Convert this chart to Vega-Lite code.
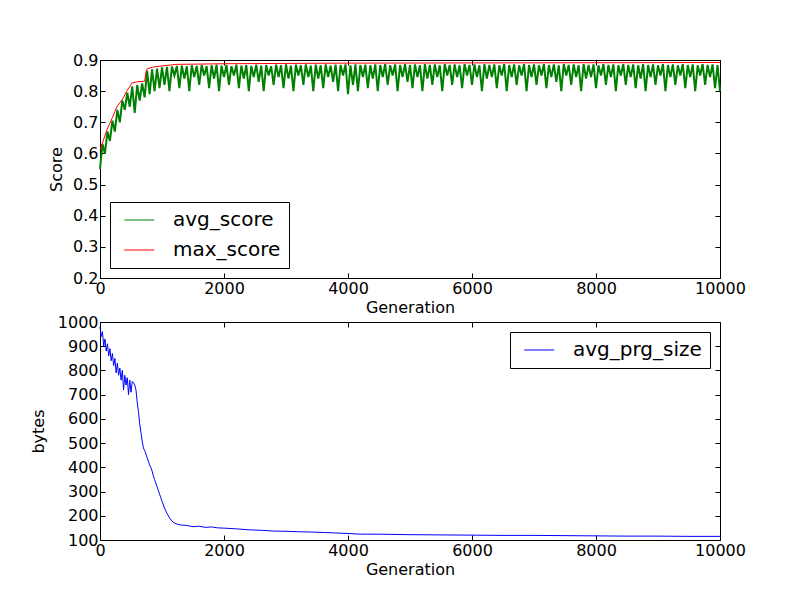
{
  "$schema": "https://vega.github.io/schema/vega-lite/v6.json",
  "autosize": {"type": "pad"},
  "padding": {"left": 29, "top": 51, "right": 5, "bottom": 5},
  "background": "white",
  "datasets": {
    "score": [
      {"s":"avg_score","g":0,"v":0.55},{"s":"avg_score","g":40,"v":0.63},{"s":"avg_score","g":80,"v":0.60},{"s":"avg_score","g":120,"v":0.67},{"s":"avg_score","g":160,"v":0.64},{"s":"avg_score","g":200,"v":0.705},{"s":"avg_score","g":240,"v":0.67},{"s":"avg_score","g":280,"v":0.74},{"s":"avg_score","g":320,"v":0.70},{"s":"avg_score","g":360,"v":0.77},
      {"s":"avg_score","g":400,"v":0.74},{"s":"avg_score","g":440,"v":0.795},{"s":"avg_score","g":480,"v":0.75},{"s":"avg_score","g":520,"v":0.815},{"s":"avg_score","g":560,"v":0.73},{"s":"avg_score","g":600,"v":0.82},{"s":"avg_score","g":640,"v":0.77},{"s":"avg_score","g":680,"v":0.825},{"s":"avg_score","g":720,"v":0.78},{"s":"avg_score","g":760,"v":0.865},
      {"s":"avg_score","g":800,"v":0.79},{"s":"avg_score","g":840,"v":0.87},{"s":"avg_score","g":880,"v":0.80},{"s":"avg_score","g":920,"v":0.872},{"s":"avg_score","g":960,"v":0.81},{"s":"avg_score","g":1000,"v":0.876},{"s":"avg_score","g":1040,"v":0.82},{"s":"avg_score","g":1080,"v":0.878},{"s":"avg_score","g":1120,"v":0.80},{"s":"avg_score","g":1160,"v":0.879},
      {"s":"avg_score","g":1200,"v":0.85},{"s":"avg_score","g":1240,"v":0.881},{"s":"avg_score","g":1280,"v":0.81},{"s":"avg_score","g":1320,"v":0.882},{"s":"avg_score","g":1360,"v":0.84},{"s":"avg_score","g":1400,"v":0.880},{"s":"avg_score","g":1440,"v":0.80},{"s":"avg_score","g":1480,"v":0.883},{"s":"avg_score","g":1520,"v":0.845},{"s":"avg_score","g":1560,"v":0.881},
      {"s":"avg_score","g":1600,"v":0.82},{"s":"avg_score","g":1640,"v":0.884},{"s":"avg_score","g":1680,"v":0.85},{"s":"avg_score","g":1720,"v":0.880},{"s":"avg_score","g":1760,"v":0.81},{"s":"avg_score","g":1800,"v":0.883},{"s":"avg_score","g":1840,"v":0.84},{"s":"avg_score","g":1880,"v":0.885},{"s":"avg_score","g":1920,"v":0.80},{"s":"avg_score","g":1960,"v":0.882},
      {"s":"avg_score","g":2000,"v":0.845},{"s":"avg_score","g":2040,"v":0.884},{"s":"avg_score","g":2080,"v":0.82},{"s":"avg_score","g":2120,"v":0.880},{"s":"avg_score","g":2160,"v":0.85},{"s":"avg_score","g":2200,"v":0.885},{"s":"avg_score","g":2240,"v":0.81},{"s":"avg_score","g":2280,"v":0.882},{"s":"avg_score","g":2320,"v":0.84},{"s":"avg_score","g":2360,"v":0.884},
      {"s":"avg_score","g":2400,"v":0.80},{"s":"avg_score","g":2440,"v":0.881},{"s":"avg_score","g":2480,"v":0.845},{"s":"avg_score","g":2520,"v":0.885},{"s":"avg_score","g":2560,"v":0.83},{"s":"avg_score","g":2600,"v":0.882},{"s":"avg_score","g":2640,"v":0.80},{"s":"avg_score","g":2680,"v":0.884},{"s":"avg_score","g":2720,"v":0.85},{"s":"avg_score","g":2760,"v":0.880},
      {"s":"avg_score","g":2800,"v":0.82},{"s":"avg_score","g":2840,"v":0.885},{"s":"avg_score","g":2880,"v":0.845},{"s":"avg_score","g":2920,"v":0.883},{"s":"avg_score","g":2960,"v":0.81},{"s":"avg_score","g":3000,"v":0.886},{"s":"avg_score","g":3040,"v":0.84},{"s":"avg_score","g":3080,"v":0.882},{"s":"avg_score","g":3120,"v":0.80},{"s":"avg_score","g":3160,"v":0.885},
      {"s":"avg_score","g":3200,"v":0.85},{"s":"avg_score","g":3240,"v":0.883},{"s":"avg_score","g":3280,"v":0.82},{"s":"avg_score","g":3320,"v":0.886},{"s":"avg_score","g":3360,"v":0.845},{"s":"avg_score","g":3400,"v":0.882},{"s":"avg_score","g":3440,"v":0.80},{"s":"avg_score","g":3480,"v":0.885},{"s":"avg_score","g":3520,"v":0.84},{"s":"avg_score","g":3560,"v":0.883},
      {"s":"avg_score","g":3600,"v":0.81},{"s":"avg_score","g":3640,"v":0.886},{"s":"avg_score","g":3680,"v":0.845},{"s":"avg_score","g":3720,"v":0.882},{"s":"avg_score","g":3760,"v":0.83},{"s":"avg_score","g":3800,"v":0.885},{"s":"avg_score","g":3840,"v":0.80},{"s":"avg_score","g":3880,"v":0.884},{"s":"avg_score","g":3920,"v":0.85},{"s":"avg_score","g":3960,"v":0.886},
      {"s":"avg_score","g":4000,"v":0.79},{"s":"avg_score","g":4040,"v":0.883},{"s":"avg_score","g":4080,"v":0.82},{"s":"avg_score","g":4120,"v":0.886},{"s":"avg_score","g":4160,"v":0.80},{"s":"avg_score","g":4200,"v":0.884},{"s":"avg_score","g":4240,"v":0.845},{"s":"avg_score","g":4280,"v":0.885},{"s":"avg_score","g":4320,"v":0.81},{"s":"avg_score","g":4360,"v":0.883},
      {"s":"avg_score","g":4400,"v":0.84},{"s":"avg_score","g":4440,"v":0.886},{"s":"avg_score","g":4480,"v":0.80},{"s":"avg_score","g":4520,"v":0.884},{"s":"avg_score","g":4560,"v":0.845},{"s":"avg_score","g":4600,"v":0.887},{"s":"avg_score","g":4640,"v":0.82},{"s":"avg_score","g":4680,"v":0.883},{"s":"avg_score","g":4720,"v":0.85},{"s":"avg_score","g":4760,"v":0.886},
      {"s":"avg_score","g":4800,"v":0.80},{"s":"avg_score","g":4840,"v":0.884},{"s":"avg_score","g":4880,"v":0.845},{"s":"avg_score","g":4920,"v":0.887},{"s":"avg_score","g":4960,"v":0.83},{"s":"avg_score","g":5000,"v":0.884},{"s":"avg_score","g":5040,"v":0.81},{"s":"avg_score","g":5080,"v":0.886},{"s":"avg_score","g":5120,"v":0.845},{"s":"avg_score","g":5160,"v":0.883},
      {"s":"avg_score","g":5200,"v":0.80},{"s":"avg_score","g":5240,"v":0.887},{"s":"avg_score","g":5280,"v":0.84},{"s":"avg_score","g":5320,"v":0.884},{"s":"avg_score","g":5360,"v":0.82},{"s":"avg_score","g":5400,"v":0.886},{"s":"avg_score","g":5440,"v":0.845},{"s":"avg_score","g":5480,"v":0.883},{"s":"avg_score","g":5520,"v":0.80},{"s":"avg_score","g":5560,"v":0.887},
      {"s":"avg_score","g":5600,"v":0.85},{"s":"avg_score","g":5640,"v":0.884},{"s":"avg_score","g":5680,"v":0.82},{"s":"avg_score","g":5720,"v":0.886},{"s":"avg_score","g":5760,"v":0.845},{"s":"avg_score","g":5800,"v":0.883},{"s":"avg_score","g":5840,"v":0.81},{"s":"avg_score","g":5880,"v":0.887},{"s":"avg_score","g":5920,"v":0.85},{"s":"avg_score","g":5960,"v":0.884},
      {"s":"avg_score","g":6000,"v":0.82},{"s":"avg_score","g":6040,"v":0.886},{"s":"avg_score","g":6080,"v":0.845},{"s":"avg_score","g":6120,"v":0.883},{"s":"avg_score","g":6160,"v":0.80},{"s":"avg_score","g":6200,"v":0.887},{"s":"avg_score","g":6240,"v":0.84},{"s":"avg_score","g":6280,"v":0.884},{"s":"avg_score","g":6320,"v":0.845},{"s":"avg_score","g":6360,"v":0.886},
      {"s":"avg_score","g":6400,"v":0.81},{"s":"avg_score","g":6440,"v":0.883},{"s":"avg_score","g":6480,"v":0.85},{"s":"avg_score","g":6520,"v":0.887},{"s":"avg_score","g":6560,"v":0.80},{"s":"avg_score","g":6600,"v":0.884},{"s":"avg_score","g":6640,"v":0.845},{"s":"avg_score","g":6680,"v":0.886},{"s":"avg_score","g":6720,"v":0.82},{"s":"avg_score","g":6760,"v":0.883},
      {"s":"avg_score","g":6800,"v":0.85},{"s":"avg_score","g":6840,"v":0.887},{"s":"avg_score","g":6880,"v":0.80},{"s":"avg_score","g":6920,"v":0.884},{"s":"avg_score","g":6960,"v":0.845},{"s":"avg_score","g":7000,"v":0.886},{"s":"avg_score","g":7040,"v":0.82},{"s":"avg_score","g":7080,"v":0.883},{"s":"avg_score","g":7120,"v":0.85},{"s":"avg_score","g":7160,"v":0.887},
      {"s":"avg_score","g":7200,"v":0.81},{"s":"avg_score","g":7240,"v":0.884},{"s":"avg_score","g":7280,"v":0.845},{"s":"avg_score","g":7320,"v":0.886},{"s":"avg_score","g":7360,"v":0.83},{"s":"avg_score","g":7400,"v":0.883},{"s":"avg_score","g":7440,"v":0.80},{"s":"avg_score","g":7480,"v":0.887},{"s":"avg_score","g":7520,"v":0.85},{"s":"avg_score","g":7560,"v":0.884},
      {"s":"avg_score","g":7600,"v":0.82},{"s":"avg_score","g":7640,"v":0.886},{"s":"avg_score","g":7680,"v":0.845},{"s":"avg_score","g":7720,"v":0.883},{"s":"avg_score","g":7760,"v":0.80},{"s":"avg_score","g":7800,"v":0.887},{"s":"avg_score","g":7840,"v":0.84},{"s":"avg_score","g":7880,"v":0.884},{"s":"avg_score","g":7920,"v":0.845},{"s":"avg_score","g":7960,"v":0.886},
      {"s":"avg_score","g":8000,"v":0.81},{"s":"avg_score","g":8040,"v":0.883},{"s":"avg_score","g":8080,"v":0.85},{"s":"avg_score","g":8120,"v":0.887},{"s":"avg_score","g":8160,"v":0.82},{"s":"avg_score","g":8200,"v":0.884},{"s":"avg_score","g":8240,"v":0.845},{"s":"avg_score","g":8280,"v":0.886},{"s":"avg_score","g":8320,"v":0.80},{"s":"avg_score","g":8360,"v":0.883},
      {"s":"avg_score","g":8400,"v":0.85},{"s":"avg_score","g":8440,"v":0.887},{"s":"avg_score","g":8480,"v":0.82},{"s":"avg_score","g":8520,"v":0.884},{"s":"avg_score","g":8560,"v":0.845},{"s":"avg_score","g":8600,"v":0.886},{"s":"avg_score","g":8640,"v":0.81},{"s":"avg_score","g":8680,"v":0.883},{"s":"avg_score","g":8720,"v":0.84},{"s":"avg_score","g":8760,"v":0.887},
      {"s":"avg_score","g":8800,"v":0.80},{"s":"avg_score","g":8840,"v":0.884},{"s":"avg_score","g":8880,"v":0.845},{"s":"avg_score","g":8920,"v":0.886},{"s":"avg_score","g":8960,"v":0.82},{"s":"avg_score","g":9000,"v":0.883},{"s":"avg_score","g":9040,"v":0.85},{"s":"avg_score","g":9080,"v":0.887},{"s":"avg_score","g":9120,"v":0.80},{"s":"avg_score","g":9160,"v":0.884},
      {"s":"avg_score","g":9200,"v":0.845},{"s":"avg_score","g":9240,"v":0.886},{"s":"avg_score","g":9280,"v":0.82},{"s":"avg_score","g":9320,"v":0.883},{"s":"avg_score","g":9360,"v":0.85},{"s":"avg_score","g":9400,"v":0.887},{"s":"avg_score","g":9440,"v":0.81},{"s":"avg_score","g":9480,"v":0.884},{"s":"avg_score","g":9520,"v":0.845},{"s":"avg_score","g":9560,"v":0.886},
      {"s":"avg_score","g":9600,"v":0.80},{"s":"avg_score","g":9640,"v":0.883},{"s":"avg_score","g":9680,"v":0.85},{"s":"avg_score","g":9720,"v":0.887},{"s":"avg_score","g":9760,"v":0.82},{"s":"avg_score","g":9800,"v":0.884},{"s":"avg_score","g":9840,"v":0.845},{"s":"avg_score","g":9880,"v":0.886},{"s":"avg_score","g":9920,"v":0.81},{"s":"avg_score","g":9960,"v":0.884},
      {"s":"avg_score","g":10000,"v":0.80},
      {"s":"max_score","g":0,"v":0.61},{"s":"max_score","g":50,"v":0.64},{"s":"max_score","g":110,"v":0.675},{"s":"max_score","g":200,"v":0.715},{"s":"max_score","g":272,"v":0.75},{"s":"max_score","g":375,"v":0.778},{"s":"max_score","g":430,"v":0.80},{"s":"max_score","g":480,"v":0.815},{"s":"max_score","g":515,"v":0.826},{"s":"max_score","g":600,"v":0.83},
      {"s":"max_score","g":720,"v":0.832},{"s":"max_score","g":740,"v":0.86},{"s":"max_score","g":760,"v":0.872},{"s":"max_score","g":850,"v":0.877},{"s":"max_score","g":1000,"v":0.881},{"s":"max_score","g":1240,"v":0.886},{"s":"max_score","g":2000,"v":0.888},{"s":"max_score","g":4000,"v":0.89},{"s":"max_score","g":7000,"v":0.891},{"s":"max_score","g":10000,"v":0.892}
    ],
    "size": [
      {"s":"avg_prg_size","g":0,"v":980},{"s":"avg_prg_size","g":20,"v":940},{"s":"avg_prg_size","g":40,"v":960},{"s":"avg_prg_size","g":60,"v":900},{"s":"avg_prg_size","g":80,"v":930},{"s":"avg_prg_size","g":100,"v":880},{"s":"avg_prg_size","g":120,"v":910},{"s":"avg_prg_size","g":140,"v":860},{"s":"avg_prg_size","g":160,"v":890},{"s":"avg_prg_size","g":180,"v":840},
      {"s":"avg_prg_size","g":200,"v":870},{"s":"avg_prg_size","g":220,"v":820},{"s":"avg_prg_size","g":240,"v":850},{"s":"avg_prg_size","g":260,"v":790},{"s":"avg_prg_size","g":280,"v":830},{"s":"avg_prg_size","g":300,"v":780},{"s":"avg_prg_size","g":320,"v":810},{"s":"avg_prg_size","g":340,"v":760},{"s":"avg_prg_size","g":360,"v":800},{"s":"avg_prg_size","g":380,"v":720},
      {"s":"avg_prg_size","g":400,"v":780},{"s":"avg_prg_size","g":420,"v":740},{"s":"avg_prg_size","g":440,"v":770},{"s":"avg_prg_size","g":460,"v":700},{"s":"avg_prg_size","g":480,"v":760},{"s":"avg_prg_size","g":500,"v":710},{"s":"avg_prg_size","g":520,"v":755},{"s":"avg_prg_size","g":540,"v":750},{"s":"avg_prg_size","g":560,"v":740},{"s":"avg_prg_size","g":580,"v":720},
      {"s":"avg_prg_size","g":600,"v":670},{"s":"avg_prg_size","g":620,"v":630},{"s":"avg_prg_size","g":640,"v":580},{"s":"avg_prg_size","g":660,"v":545},{"s":"avg_prg_size","g":680,"v":510},{"s":"avg_prg_size","g":700,"v":480},{"s":"avg_prg_size","g":720,"v":470},{"s":"avg_prg_size","g":740,"v":455},{"s":"avg_prg_size","g":760,"v":440},{"s":"avg_prg_size","g":780,"v":425},
      {"s":"avg_prg_size","g":800,"v":410},{"s":"avg_prg_size","g":820,"v":400},{"s":"avg_prg_size","g":840,"v":385},{"s":"avg_prg_size","g":860,"v":365},{"s":"avg_prg_size","g":880,"v":350},{"s":"avg_prg_size","g":900,"v":335},{"s":"avg_prg_size","g":920,"v":320},{"s":"avg_prg_size","g":940,"v":305},{"s":"avg_prg_size","g":960,"v":290},{"s":"avg_prg_size","g":980,"v":275},
      {"s":"avg_prg_size","g":1000,"v":260},{"s":"avg_prg_size","g":1040,"v":232},{"s":"avg_prg_size","g":1080,"v":210},{"s":"avg_prg_size","g":1120,"v":192},{"s":"avg_prg_size","g":1160,"v":178},{"s":"avg_prg_size","g":1200,"v":170},{"s":"avg_prg_size","g":1250,"v":165},{"s":"avg_prg_size","g":1300,"v":162},{"s":"avg_prg_size","g":1400,"v":160},{"s":"avg_prg_size","g":1500,"v":155},
      {"s":"avg_prg_size","g":1600,"v":157},{"s":"avg_prg_size","g":1700,"v":152},{"s":"avg_prg_size","g":1800,"v":154},{"s":"avg_prg_size","g":1900,"v":150},{"s":"avg_prg_size","g":2000,"v":149},{"s":"avg_prg_size","g":2200,"v":146},{"s":"avg_prg_size","g":2400,"v":142},{"s":"avg_prg_size","g":2600,"v":140},{"s":"avg_prg_size","g":2800,"v":137},{"s":"avg_prg_size","g":3000,"v":136},
      {"s":"avg_prg_size","g":3200,"v":134},{"s":"avg_prg_size","g":3400,"v":133},{"s":"avg_prg_size","g":3600,"v":131},{"s":"avg_prg_size","g":3800,"v":129},{"s":"avg_prg_size","g":4000,"v":127},{"s":"avg_prg_size","g":4200,"v":124},{"s":"avg_prg_size","g":4500,"v":124},{"s":"avg_prg_size","g":5000,"v":122},{"s":"avg_prg_size","g":5500,"v":121},{"s":"avg_prg_size","g":6000,"v":120},
      {"s":"avg_prg_size","g":6500,"v":119},{"s":"avg_prg_size","g":7000,"v":119},{"s":"avg_prg_size","g":7500,"v":118},{"s":"avg_prg_size","g":8000,"v":117},{"s":"avg_prg_size","g":8500,"v":116},{"s":"avg_prg_size","g":9000,"v":116},{"s":"avg_prg_size","g":9500,"v":115},{"s":"avg_prg_size","g":10000,"v":115}
    ]
  },
  "config": {
    "view": {"stroke": "#000000", "strokeWidth": 1},
    "axis": {
      "grid": false, "domain": false,
      "labelFont": "DejaVu Sans", "labelFontSize": 16, "labelColor": "#000000",
      "titleFont": "DejaVu Sans", "titleFontSize": 16, "titleFontWeight": "normal", "titleColor": "#000000",
      "tickColor": "#000000", "tickSize": -5, "labelPadding": 7, "titlePadding": 3,
      "labelFlush": false, "labelOverlap": false, "labelBound": false
    },
    "legend": {
      "labelFont": "DejaVu Sans", "labelFontSize": 20, "labelColor": "#000000",
      "symbolType": "M-0.5,0H3.5", "symbolSize": 225, "symbolStrokeWidth": 1.2, "symbolFillColor": "transparent",
      "labelOffset": 35, "padding": 8, "rowPadding": 10,
      "strokeColor": "#000000", "fillColor": "#ffffff", "offset": 10, "cornerRadius": 0
    },
    "line": {"strokeWidth": 1}
  },
  "vconcat": [
    {
      "width": 620, "height": 218,
      "data": {"name": "score"},
      "layer": [
        {
          "transform": [{"filter": "datum.s === 'avg_score'"}],
          "mark": {"type": "line", "strokeWidth": 2},
          "encoding": {
            "x": {"field": "g", "type": "quantitative", "scale": {"domain": [0, 10000], "nice": false},
                  "axis": {"orient": "bottom", "values": [0, 2000, 4000, 6000, 8000, 10000], "format": "d", "title": "Generation"}},
            "y": {"field": "v", "type": "quantitative", "scale": {"domain": [0.2, 0.9], "nice": false, "zero": false},
                  "axis": {"orient": "left", "values": [0.2, 0.3, 0.4, 0.5, 0.6, 0.7, 0.8, 0.9], "format": ".1f", "title": "Score", "titlePadding": 8}},
            "color": {"field": "s", "type": "nominal",
                      "scale": {"domain": ["avg_score", "max_score"], "range": ["#008000", "#ff0000"]},
                      "legend": {"orient": "bottom-left", "title": null}}
          }
        },
        {
          "transform": [{"filter": "datum.s === 'max_score'"}],
          "mark": {"type": "line", "strokeWidth": 1},
          "encoding": {
            "x": {"field": "g", "type": "quantitative",
                  "axis": {"orient": "top", "values": [0, 2000, 4000, 6000, 8000, 10000], "labels": false, "title": null}},
            "y": {"field": "v", "type": "quantitative",
                  "axis": {"orient": "right", "values": [0.2, 0.3, 0.4, 0.5, 0.6, 0.7, 0.8, 0.9], "labels": false, "title": null}},
            "color": {"field": "s", "type": "nominal"}
          }
        }
      ],
      "resolve": {"axis": {"x": "independent", "y": "independent"}}
    },
    {
      "width": 620, "height": 218,
      "data": {"name": "size"},
      "layer": [
        {
          "mark": {"type": "line", "strokeWidth": 1},
          "encoding": {
            "x": {"field": "g", "type": "quantitative", "scale": {"domain": [0, 10000], "nice": false},
                  "axis": {"orient": "bottom", "values": [0, 2000, 4000, 6000, 8000, 10000], "format": "d", "title": "Generation"}},
            "y": {"field": "v", "type": "quantitative", "scale": {"domain": [100, 1000], "nice": false, "zero": false},
                  "axis": {"orient": "left", "values": [100, 200, 300, 400, 500, 600, 700, 800, 900, 1000], "format": "d", "title": "bytes", "titlePadding": 11}},
            "color": {"field": "s", "type": "nominal",
                      "scale": {"domain": ["avg_prg_size"], "range": ["#0000ff"]},
                      "legend": {"orient": "top-right", "title": null}}
          }
        },
        {
          "mark": {"type": "line", "strokeWidth": 1, "strokeOpacity": 0},
          "encoding": {
            "x": {"field": "g", "type": "quantitative",
                  "axis": {"orient": "top", "values": [0, 2000, 4000, 6000, 8000, 10000], "labels": false, "title": null}},
            "y": {"field": "v", "type": "quantitative",
                  "axis": {"orient": "right", "values": [100, 200, 300, 400, 500, 600, 700, 800, 900, 1000], "labels": false, "title": null}}
          }
        }
      ],
      "resolve": {"axis": {"x": "independent", "y": "independent"}}
    }
  ],
  "spacing": 44,
  "bounds": "flush",
  "resolve": {"scale": {"color": "independent", "x": "independent", "y": "independent"}, "legend": {"color": "independent"}}
}
